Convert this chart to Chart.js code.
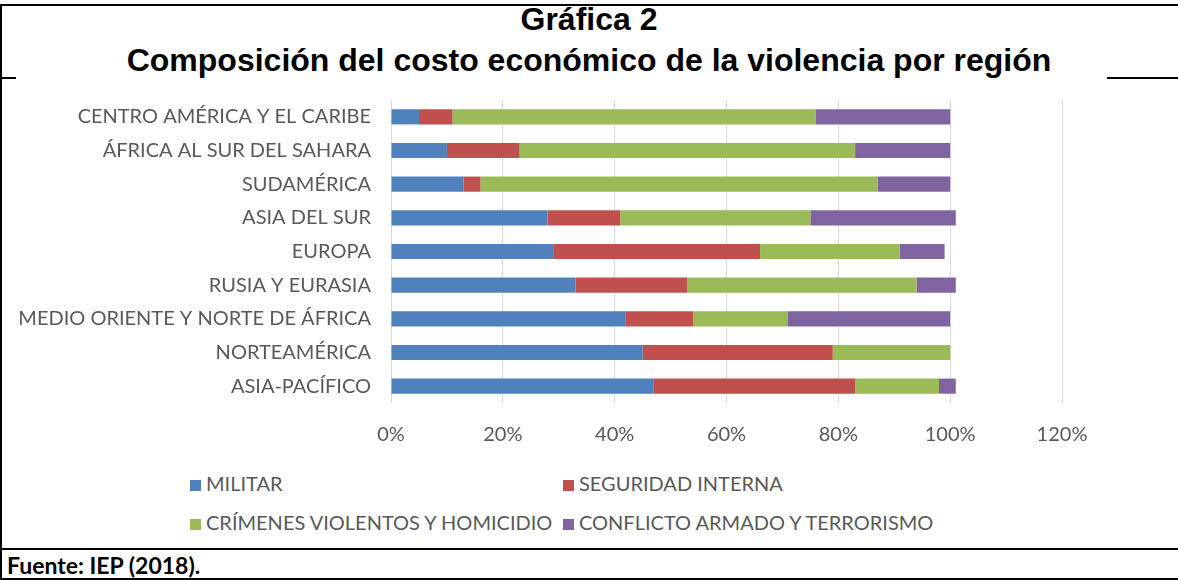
<!DOCTYPE html>
<html>
<head>
<meta charset="utf-8">
<script src="https://cdn.jsdelivr.net/npm/chart.js@4.4.1/dist/chart.umd.min.js"></script>
<style>
  html,body{margin:0;padding:0;background:#fff;}
  body{width:1178px;height:580px;position:relative;overflow:hidden;}
  .ln{position:absolute;background:#000;}
  .title{position:absolute;left:0;width:1178px;text-align:center;font-family:"Liberation Sans",Arial,sans-serif;font-weight:bold;font-size:32px;line-height:36px;color:#000;}
  #chartWrap{position:absolute;left:0;top:90px;width:1178px;height:353px;}
  .leg{position:absolute;font-family:Lato,"Open Sans",sans-serif;font-size:20px;color:#595959;line-height:24px;white-space:nowrap;}
  .leg i{display:inline-block;width:11px;height:11px;margin-right:5px;vertical-align:0px;}
  #src{position:absolute;left:7px;top:551px;font-family:Lato,"Open Sans",sans-serif;font-weight:bold;font-size:23px;line-height:28px;color:#000;}
</style>
</head>
<body>
<div class="ln" style="left:0;top:4px;width:1178px;height:2px"></div>
<div class="ln" style="left:0;top:4px;width:2px;height:576px"></div>
<div class="ln" style="left:0;top:77px;width:16px;height:2px"></div>
<div class="ln" style="left:1107px;top:77px;width:71px;height:2px"></div>
<div class="ln" style="left:0;top:548px;width:1178px;height:2px"></div>
<div class="ln" style="left:0;top:578px;width:1178px;height:2px"></div>
<div class="title" style="top:1px">Gráfica 2</div>
<div class="title" style="top:42px">Composición del costo económico de la violencia por región</div>
<div id="chartWrap"><canvas id="c" width="1178" height="353"></canvas></div>
<div id="legend"></div>
<div id="src">Fuente: IEP (2018).</div>
<script>
const categories = [
  "CENTRO AMÉRICA Y EL CARIBE",
  "ÁFRICA AL SUR DEL SAHARA",
  "SUDAMÉRICA",
  "ASIA DEL SUR",
  "EUROPA",
  "RUSIA Y EURASIA",
  "MEDIO ORIENTE Y NORTE DE ÁFRICA",
  "NORTEAMÉRICA",
  "ASIA-PACÍFICO"
];
const seriesNames = ["MILITAR", "SEGURIDAD INTERNA", "CRÍMENES VIOLENTOS Y HOMICIDIO", "CONFLICTO ARMADO Y TERRORISMO"];
const militar    = [5, 10, 13, 28, 29, 33, 42, 45, 47];
const seguridad  = [6, 13, 3, 13, 37, 20, 12, 34, 36];
const crimenes   = [65, 60, 71, 34, 25, 41, 17, 21, 15];
const conflicto  = [24, 17, 13, 26, 8, 7, 29, 0, 3];
const xTicks = [0, 20, 40, 60, 80, 100, 120];
const colors = ["#4F81BD", "#C0504D", "#9BBB59", "#8064A2"];

const seriesValues = [militar, seguridad, crimenes, conflicto];
const datasets = seriesNames.map((n, i) => ({
  label: n,
  data: seriesValues[i],
  backgroundColor: colors[i],
  borderWidth: 0,
  barPercentage: 0.45,
  categoryPercentage: 1.0
}));

const font = {family: "Lato", size: 20};
new Chart(document.getElementById("c"), {
  type: "bar",
  data: {labels: categories, datasets: datasets},
  options: {
    indexAxis: "y",
    responsive: false,
    animation: false,
    devicePixelRatio: 1,
    layout: {padding: {top: 10, right: 116, bottom: 0, left: 0}},
    plugins: {legend: {display: false}, tooltip: {enabled: false}, title: {display: false}},
    scales: {
      x: {
        stacked: true,
        min: xTicks[0],
        max: xTicks[xTicks.length - 1],
        afterBuildTicks: s => { s.ticks = xTicks.map(v => ({value: v})); },
        ticks: {color: "#595959", font: font, padding: 20, maxRotation: 0, callback: v => v + "%"},
        grid: {color: "#d9d9d9", lineWidth: 1, drawTicks: false},
        border: {display: false},
        afterFit: s => { s.height = 40; }
      },
      y: {
        stacked: true,
        ticks: {color: "#595959", font: font, padding: 20, autoSkip: false},
        grid: {display: false, drawTicks: false},
        border: {display: false},
        afterFit: s => { s.width = 391; s.paddingTop = 0; s.paddingBottom = 0; }
      }
    }
  }
});

// HTML legend (two columns, two rows)
const legPos = [[190, 471], [563, 471], [190, 510], [563, 510]];
const legend = document.getElementById("legend");
seriesNames.forEach((n, i) => {
  const d = document.createElement("div");
  d.className = "leg";
  d.style.left = legPos[i][0] + "px";
  d.style.top = legPos[i][1] + "px";
  const box = document.createElement("i");
  box.style.background = colors[i];
  d.appendChild(box);
  d.appendChild(document.createTextNode(n));
  legend.appendChild(d);
});
</script>
</body>
</html>
